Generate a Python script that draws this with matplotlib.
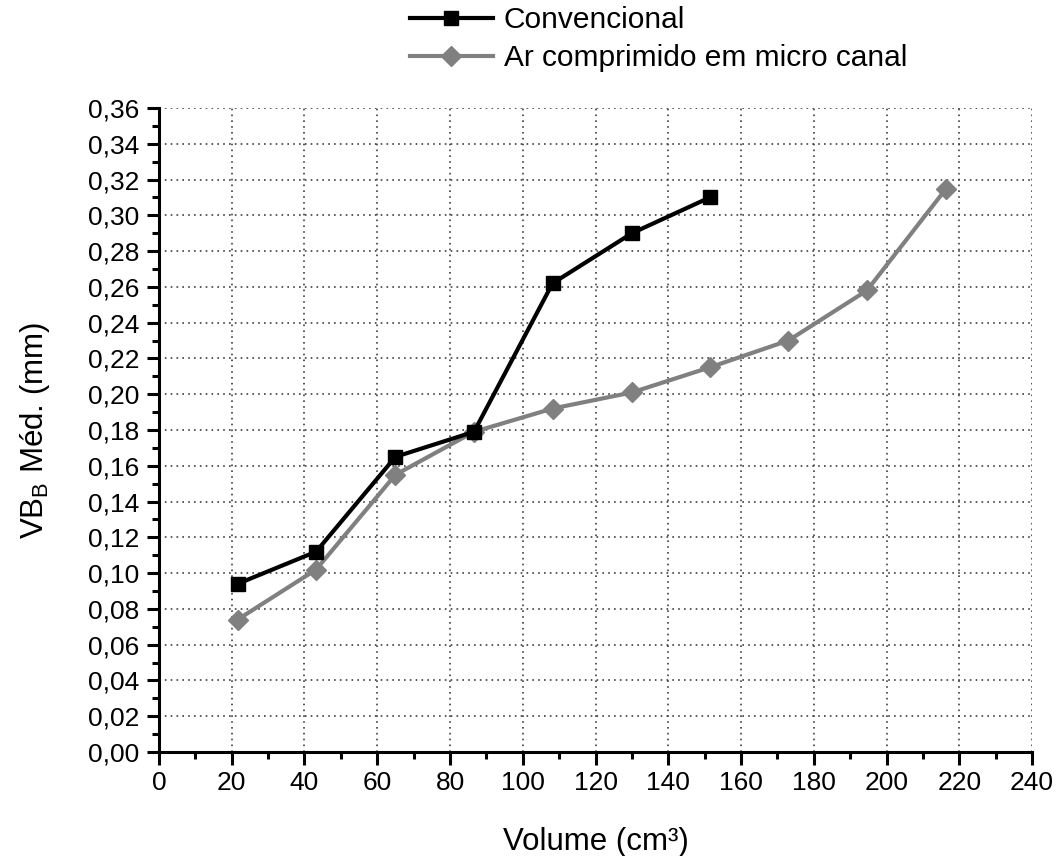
import matplotlib
matplotlib.use("Agg")
import matplotlib.pyplot as plt
from matplotlib.ticker import MultipleLocator, FuncFormatter

plt.rcParams['font.family'] = ['Liberation Sans', 'DejaVu Sans']

# data
vol_conv = [21.6, 43.2, 65.0, 86.6, 108.2, 130.0, 151.4]
vb_conv = [0.094, 0.112, 0.165, 0.179, 0.262, 0.290, 0.310]

vol_ar = [21.6, 43.2, 65.0, 86.6, 108.2, 130.0, 151.4, 173.0, 194.6, 216.4]
vb_ar = [0.074, 0.102, 0.155, 0.179, 0.192, 0.201, 0.215, 0.230, 0.258, 0.315]

fig = plt.figure(figsize=(10.62, 8.56), dpi=100)
ax = fig.add_axes([0.1497, 0.1215, 0.8221, 0.7523])

ax.plot(vol_conv, vb_conv, color='black', lw=3, marker='s', ms=10,
        label='Convencional', zorder=4)
ax.plot(vol_ar, vb_ar, color='#808080', lw=3, marker='D', ms=10.5,
        label='Ar comprimido em micro canal', zorder=3)

ax.set_xlim(0, 240)
ax.set_ylim(0, 0.36)
ax.xaxis.set_major_locator(MultipleLocator(20))
ax.xaxis.set_minor_locator(MultipleLocator(10))
ax.yaxis.set_major_locator(MultipleLocator(0.02))
ax.yaxis.set_minor_locator(MultipleLocator(0.01))
ax.yaxis.set_major_formatter(FuncFormatter(lambda v, p: f"{v:.2f}".replace('.', ',')))

for s in ['top', 'right']:
    ax.spines[s].set_visible(False)
for s in ['left', 'bottom']:
    ax.spines[s].set_linewidth(2.2)

ax.tick_params(which='major', direction='out', length=9, width=2.2, labelsize=19, pad=5)
ax.tick_params(which='minor', direction='out', length=5, width=2.2)

ax.grid(True, which='major', linestyle=(0, (1, 2.5)), color='#404040', linewidth=1.2)
ax.set_axisbelow(True)
# no grid at the top edge / right edge
ax.get_ygridlines()[-1].set_visible(False)
ax.get_xgridlines()[-1].set_visible(False)

ax.set_xlabel('Volume (cm³)', fontsize=22.5, labelpad=23)
ax.set_ylabel(r'VB$_\mathregular{B}$ Méd. (mm)', fontsize=22.5, labelpad=26)

ax.legend(loc='lower center', bbox_to_anchor=(0.572, 1.032), frameon=False,
          fontsize=21.5, handlelength=2.8, handletextpad=0.35, labelspacing=0.35,
          borderpad=0)

fig.savefig('out.png', dpi=100)
